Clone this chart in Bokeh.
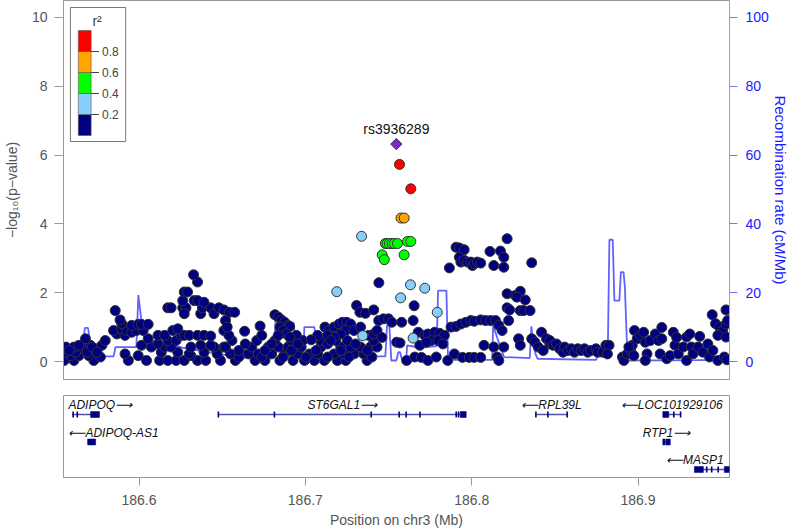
import numpy as np
from bokeh.plotting import figure
from bokeh.models import Range1d, LinearAxis, FixedTicker, ColumnDataSource
from bokeh.layouts import column
from bokeh.embed import file_html
from bokeh.resources import INLINE
from bokeh.core.properties import value
from bokeh.transform import linear_cmap

FONT = "Liberation Sans"

# ---------------- data ----------------
x_start, x_end = 186.5546, 186.9550
lead_snp = "rs3936289"
lead_pos = [186.7547]
lead_logp = [6.32]

ld_colors = ["#000080", "#87CEFA", "#00FF00", "#FFA500", "#FF0000"]
ld_ticks = [0.2, 0.4, 0.6, 0.8]
ld_title = "r\u00b2"

# (position Mb, -log10 p), r2 < 0.2
navy_zone1_low = [
    (186.5550, 0.03), (186.5609, 0.03), (186.5728, 0.03), (186.5936, 0.03), (186.6045, 0.03), (186.6124, 0.03),
    (186.6173, 0.03), (186.6223, 0.03), (186.6272, 0.03), (186.6352, 0.03), (186.6401, 0.03), (186.6490, 0.03),
    (186.5589, 0.17), (186.5639, 0.17), (186.5698, 0.17), (186.5768, 0.13), (186.5995, 0.17), (186.6312, 0.17),
    (186.5560, 0.27), (186.5619, 0.27), (186.5916, 0.22), (186.6134, 0.27), (186.6233, 0.27), (186.6302, 0.22),
    (186.6391, 0.27), (186.6470, 0.22),
    (186.5560, 0.42), (186.5609, 0.42), (186.5669, 0.37), (186.5738, 0.37), (186.6074, 0.42), (186.6154, 0.42),
    (186.6193, 0.42), (186.6312, 0.42), (186.6451, 0.42), (186.6510, 0.42),
    (186.5708, 0.47), (186.5777, 0.47), (186.6015, 0.47), (186.6114, 0.51), (186.6371, 0.47), (186.6431, 0.47),
    (186.5678, 0.66), (186.5797, 0.61), (186.6055, 0.66), (186.6173, 0.61), (186.6223, 0.61),
    (186.5579, 0.32), (186.5639, 0.47), (186.5688, 0.27), (186.5718, 0.42), (186.5748, 0.27),
]
navy_zone1_high = [
    (186.5867, 0.80), (186.5916, 0.76), (186.6114, 0.76), (186.6154, 0.76), (186.6253, 0.76), (186.6272, 0.76),
    (186.6302, 0.76), (186.6352, 0.76), (186.6391, 0.76), (186.6431, 0.74),
    (186.5847, 0.90), (186.5896, 0.95), (186.5926, 0.90), (186.5956, 0.85), (186.5985, 0.90), (186.6025, 0.90),
    (186.6203, 0.90), (186.6233, 0.95), (186.6510, 0.90),
    (186.5896, 1.10), (186.5956, 1.05), (186.5995, 1.08), (186.6015, 1.08), (186.6055, 1.08),
    (186.5857, 1.48), (186.5886, 1.21), (186.6173, 1.56), (186.6193, 1.56), (186.6263, 1.56), (186.6282, 1.56),
    (186.6272, 1.39), (186.6371, 1.39), (186.6381, 1.56), (186.6431, 1.56), (186.6451, 1.39), (186.6480, 1.56),
    (186.6263, 1.77), (186.6332, 1.77), (186.6352, 1.77), (186.6391, 1.72), (186.6272, 2.02), (186.6292, 2.02),
    (186.6352, 2.31), (186.6328, 2.52),
]
navy_zone2_high = [
    (186.6510, 1.50), (186.6544, 1.43), (186.6575, 1.43), (186.6520, 1.19), (186.6530, 1.00), (186.6635, 0.88),
    (186.6728, 1.03),
    (186.6817, 1.36), (186.6837, 1.29), (186.6856, 1.21), (186.6876, 1.14), (186.6896, 1.05), (186.6906, 1.02),
    (186.6847, 1.00), (186.6866, 0.90), (186.6886, 0.80), (186.6906, 0.71), (186.6837, 0.76),
    (186.7035, 0.63),
    (186.7118, 1.00), (186.7138, 0.90), (186.7173, 1.00), (186.7203, 1.09), (186.7223, 1.14), (186.7248, 1.14),
    (186.7272, 1.09), (186.7243, 0.90), (186.7213, 0.80), (186.7173, 0.71), (186.7134, 0.76), (186.7153, 0.61),
    (186.7308, 1.63), (186.7328, 1.43), (186.7361, 1.40), (186.7411, 1.50), (186.7441, 1.19), (186.7470, 1.24),
    (186.7500, 1.24),
    (186.7381, 0.76), (186.7411, 0.80), (186.7431, 0.90), (186.7460, 0.70), (186.7292, 0.90), (186.7332, 1.00),
    (186.7442, 2.29),
]
navy_zone2_low = [
    (186.6579, 0.03), (186.6698, 0.03), (186.6757, 0.03), (186.6847, 0.03), (186.6926, 0.03), (186.6995, 0.03),
    (186.7054, 0.03), (186.7114, 0.03), (186.7193, 0.03), (186.7243, 0.03), (186.7371, 0.03),
    (186.6550, 0.22), (186.6619, 0.22), (186.6658, 0.22), (186.6718, 0.22), (186.6797, 0.22), (186.6876, 0.22),
    (186.6955, 0.22), (186.7025, 0.22), (186.7074, 0.22), (186.7173, 0.22), (186.7233, 0.22), (186.7292, 0.22),
    (186.7351, 0.22),
    (186.6520, 0.42), (186.6678, 0.42), (186.6777, 0.42), (186.6837, 0.42), (186.6896, 0.42), (186.6975, 0.42),
    (186.7094, 0.42), (186.7213, 0.42), (186.7272, 0.42), (186.7332, 0.42), (186.7391, 0.42), (186.7431, 0.42),
    (186.6559, 0.61), (186.6708, 0.61), (186.6817, 0.61), (186.6916, 0.61), (186.6985, 0.61), (186.7094, 0.61),
    (186.7183, 0.61), (186.7252, 0.61), (186.7411, 0.61),
    (186.6540, 0.76), (186.6738, 0.76), (186.6946, 0.76), (186.7074, 0.76),
    (186.6600, 0.13), (186.6738, 0.13), (186.6866, 0.13), (186.7004, 0.13), (186.7134, 0.13), (186.7262, 0.13),
    (186.7400, 0.13),
    (186.6600, 0.32), (186.6757, 0.32), (186.6916, 0.32), (186.7064, 0.32), (186.7213, 0.32), (186.7371, 0.32),
    (186.6639, 0.51), (186.6797, 0.51), (186.6955, 0.51), (186.7134, 0.51), (186.7302, 0.51),
]
navy_zone3 = [
    (186.7866, 2.72), (186.7906, 3.32), (186.7926, 3.30), (186.7955, 3.25), (186.7926, 3.03), (186.7935, 2.89),
    (186.7955, 2.94), (186.7975, 2.89), (186.7995, 2.89), (186.8005, 2.79), (186.8015, 2.84), (186.8034, 2.89),
    (186.8054, 2.86), (186.8110, 3.20), (186.8133, 2.79), (186.8173, 3.21), (186.8193, 3.03), (186.8193, 2.74),
    (186.8213, 3.57), (186.8361, 2.87),
    (186.8213, 1.97), (186.8262, 1.92), (186.8292, 2.04), (186.8272, 1.87), (186.8322, 1.79), (186.8213, 1.56),
    (186.8228, 1.50), (186.8292, 1.48), (186.8312, 1.48), (186.8351, 1.48), (186.8222, 1.19),
    (186.7520, 1.14), (186.7579, 1.14), (186.7648, 1.19), (186.7654, 1.62), (186.7876, 1.00),
    (186.7906, 1.02), (186.7935, 1.09), (186.7965, 1.14), (186.7995, 1.19), (186.8015, 1.17), (186.8054, 1.21),
    (186.8084, 1.19), (186.8114, 1.19), (186.8143, 1.19), (186.8163, 1.05), (186.8183, 0.90),
    (186.7549, 0.56), (186.7569, 0.54), (186.7678, 0.85), (186.7718, 0.76), (186.7737, 0.80), (186.7777, 0.85),
    (186.7807, 0.82), (186.7836, 0.76), (186.7757, 0.61), (186.7797, 0.61), (186.7827, 0.51), (186.7688, 0.47),
    (186.7728, 0.56),
    (186.7609, 0.03), (186.7658, 0.13), (186.7698, 0.12), (186.7737, 0.03), (186.7787, 0.13), (186.7856, 0.03),
    (186.7896, 0.22), (186.7945, 0.12), (186.7985, 0.12), (186.8015, 0.12), (186.8054, 0.12), (186.8153, 0.13),
    (186.8163, 0.03),
    (186.8074, 0.47), (186.8133, 0.42), (186.8193, 0.42), (186.8282, 0.66), (186.8292, 0.47), (186.8361, 0.66),
    (186.8381, 0.56), (186.8420, 0.85), (186.8450, 0.66), (186.8470, 0.51), (186.8400, 0.42), (186.8430, 0.32),
]
navy_zone4 = [
    (186.8470, 0.61), (186.8490, 0.47), (186.8510, 0.51), (186.8529, 0.37), (186.8549, 0.27), (186.8559, 0.42),
    (186.8579, 0.32), (186.8599, 0.37), (186.8618, 0.27), (186.8638, 0.37), (186.8658, 0.32), (186.8678, 0.37),
    (186.8698, 0.27), (186.8717, 0.32), (186.8747, 0.37), (186.8757, 0.27), (186.8787, 0.27), (186.8807, 0.47),
    (186.8826, 0.47), (186.8816, 0.22),
    (186.8906, 0.13), (186.8915, 0.03), (186.8935, 0.22), (186.8955, 0.32), (186.8965, 0.47), (186.8975, 0.17),
    (186.8945, 0.42), (186.8979, 0.90), (186.8995, 0.66), (186.9014, 0.76), (186.9034, 0.85), (186.9044, 0.56),
    (186.9054, 0.22), (186.9044, 0.03), (186.9074, 0.61), (186.9104, 0.80), (186.9123, 0.61), (186.9143, 0.99),
    (186.9143, 0.66), (186.9133, 0.22), (186.9173, 0.08), (186.9193, 0.17), (186.9212, 0.85), (186.9222, 0.47),
    (186.9232, 0.70), (186.9242, 0.22), (186.9272, 0.42), (186.9292, 0.71), (186.9311, 0.80), (186.9292, 0.03),
    (186.9321, 0.42), (186.9331, 0.22), (186.9361, 0.42), (186.9371, 0.73), (186.9390, 0.27), (186.9420, 0.51),
    (186.9430, 0.13), (186.9450, 0.32), (186.9480, 0.03), (186.9519, 0.13), (186.9446, 1.36), (186.9466, 1.10),
    (186.9529, 1.50), (186.9490, 1.00), (186.9509, 0.90), (186.9529, 1.09), (186.9480, 0.76), (186.9529, 0.71),
    (186.9539, 1.19), (186.9535, 0.05),
]
# 0.2 <= r2 < 0.4
lightblue_snps = [(186.7338, 3.64), (186.7189, 2.03), (186.7345, 0.75), (186.7632, 2.23), (186.7718, 2.13),
                  (186.7573, 1.85), (186.7793, 1.43), (186.7648, 0.68)]
# 0.4 <= r2 < 0.6
green_snps = [(186.7481, 3.43), (186.7491, 3.43), (186.7505, 3.43), (186.7521, 3.43), (186.7535, 3.43),
              (186.7554, 3.43), (186.7614, 3.49), (186.7634, 3.49), (186.7462, 3.10), (186.7475, 2.96),
              (186.7594, 3.10)]
# 0.6 <= r2 < 0.8
orange_snps = [(186.7575, 4.17), (186.7594, 4.17)]
# r2 >= 0.8
red_snps = [(186.7566, 5.73), (186.7634, 5.02)]
ld_class_r2 = [0.1, 0.3, 0.5, 0.7, 0.9]

# recombination rate (position Mb, cM/Mb)
recomb = [
    (186.5544, 1.5), (186.5610, 2.0), (186.5657, 3.0), (186.5675, 9.8), (186.5693, 9.8), (186.5717, 2.5),
    (186.5788, 1.5), (186.5847, 1.5), (186.5859, 4.2), (186.5984, 4.2), (186.5996, 19.3), (186.6014, 12.0),
    (186.6031, 7.0), (186.6085, 6.0), (186.6174, 5.0), (186.6263, 4.0), (186.6382, 3.0), (186.6501, 2.0),
    (186.6620, 1.5), (186.6739, 1.8), (186.6810, 2.0), (186.6822, 12.9), (186.6869, 12.9), (186.6887, 11.3),
    (186.6929, 11.3), (186.6947, 3.0), (186.6988, 3.0), (186.6994, 10.0), (186.7054, 10.0), (186.7077, 1.7),
    (186.7214, 1.5), (186.7333, 1.5), (186.7481, 1.5), (186.7491, 10.5), (186.7505, 10.5), (186.7517, 0.3),
    (186.7547, 0.3), (186.7559, 2.7), (186.7570, 2.7), (186.7582, 0.3), (186.7606, 0.3), (186.7612, 4.7),
    (186.7689, 4.0), (186.7790, 4.5), (186.7798, 20.6), (186.7848, 20.6), (186.7857, 2.0), (186.7868, 0.5),
    (186.8123, 0.5), (186.8129, 10.5), (186.8153, 7.0), (186.8194, 1.3), (186.8349, 1.0), (186.8359, 10.2),
    (186.8367, 6.0), (186.8383, 2.3), (186.8396, 0.8), (186.8747, 0.5), (186.8759, 1.7), (186.8818, 1.7),
    (186.8828, 35.4), (186.8848, 35.4), (186.8858, 17.7), (186.8888, 17.7), (186.8897, 26.0), (186.8913, 26.0),
    (186.8921, 21.6), (186.8937, 0.3), (186.9353, 0.4), (186.9555, 0.5),
]

gene_name = ["ADIPOQ", "ADIPOQ-AS1", "ST6GAL1", "RPL39L", "LOC101929106", "RTP1", "MASP1"]
gene_start = [186.5598, 186.5691, 186.6477, 186.8386, 186.9149, 186.9149, 186.9339]
gene_end = [186.5762, 186.5739, 186.7967, 186.8574, 186.9256, 186.9194, 186.9551]
gene_strand = ["+", "-", "+", "-", "-", "+", "-"]
gene_row = [1, 2, 1, 1, 1, 2, 3]
exon_start = [186.5709, 186.5691, 186.7931, 186.9149, 186.9149, 186.9167, 186.9339, 186.9519]
exon_end = [186.5762, 186.5739, 186.7967, 186.9185, 186.9162, 186.9194, 186.9393, 186.9551]
exon_row = [1, 2, 1, 1, 2, 2, 3, 3]
small_exon_pos = [186.5604, 186.5629, 186.6477, 186.6814, 186.7396, 186.7564, 186.7606, 186.7689, 186.7907,
                  186.7921, 186.8386, 186.8458, 186.8574, 186.9215, 186.9256, 186.9413, 186.9443, 186.9482]
small_exon_row = [1, 1, 1, 1, 1, 1, 1, 1, 1, 1, 1, 1, 1, 1, 1, 3, 3, 3]

# ---------------- layout ----------------
W = 791
BL, BR = 59, 57
FW = W - BL - BR
FH = 379
y_bot, y_top = -0.523, 10.494
xr = Range1d(x_start, x_end)

p = figure(width=W, height=FH + 8, x_range=xr, y_range=Range1d(y_bot, y_top),
           x_axis_location=None, y_axis_location="left", toolbar_location=None,
           output_backend="svg", title=None,
           min_border_left=BL, min_border_right=BR, min_border_top=0, min_border_bottom=8)
p.grid.visible = False
p.outline_line_color = "#999999"
p.background_fill_color = "white"
p.border_fill_color = "white"

yax = p.yaxis[0]
yax.ticker = FixedTicker(ticks=[0, 2, 4, 6, 8, 10])
yax.axis_label = "\u2212log\u2081\u2080(p\u2212value)"
yax.axis_label_text_font = FONT
yax.axis_label_text_font_size = "14px"
yax.axis_label_text_font_style = "normal"
yax.axis_label_text_color = "#555555"
yax.axis_label_standoff = 9
yax.major_label_text_font = FONT
yax.major_label_text_font_size = "14px"
yax.major_label_text_color = "#555555"
yax.major_label_standoff = 7
yax.major_tick_out = 9
yax.major_tick_in = 0
yax.minor_tick_line_color = None
yax.axis_line_color = "#999999"
yax.major_tick_line_color = "#999999"

p.extra_y_ranges = {"recomb": Range1d(y_bot * 10, y_top * 10)}
rax = LinearAxis(y_range_name="recomb", ticker=FixedTicker(ticks=[0, 20, 40, 60, 80, 100]),
                 axis_label="Recombination rate (cM/Mb)")
rax.axis_label_text_font = FONT
rax.axis_label_text_font_size = "15px"
rax.axis_label_text_font_style = "normal"
rax.axis_label_text_color = "#1a1aff"
rax.axis_label_standoff = 0
rax.major_label_text_font = FONT
rax.major_label_text_font_size = "14px"
rax.major_label_text_color = "#1a1aff"
rax.major_label_standoff = 8
rax.major_tick_out = 8
rax.major_tick_in = 0
rax.minor_tick_line_color = None
rax.axis_line_color = "#9a9ae0"
rax.major_tick_line_color = "#7777ee"
p.add_layout(rax, "right")

# recombination line
p.line([r[0] for r in recomb], [r[1] for r in recomb], y_range_name="recomb",
       line_color="#3b3bff", line_alpha=0.8, line_width=1.8)

# SNPs
classes = [navy_zone1_low + navy_zone1_high + navy_zone2_low + navy_zone2_high + navy_zone3 + navy_zone4,
           lightblue_snps, green_snps, orange_snps, red_snps]
xs, ys, r2s = [], [], []
for snps, r2 in zip(classes, ld_class_r2):
    for pos, lp in snps:
        xs.append(pos)
        ys.append(lp)
        r2s.append(r2)
src = ColumnDataSource(dict(x=xs, y=ys, r2=r2s))
p.scatter("x", "y", source=src, size=10, line_color="#333333", line_width=1,
          fill_color=linear_cmap("r2", ld_colors, 0, 1))

p.scatter(lead_pos, lead_logp, marker="square", angle=np.pi / 4, size=8,
          fill_color="#7D26CD", line_color="#333333", line_width=1)
p.text(lead_pos, lead_logp, text=[lead_snp], text_font=value(FONT), text_font_size="14px",
       text_align="center", text_baseline="bottom", y_offset=-7, text_color="#111111")

# r2 legend (inset, positioned in pixels from the frame's top-left corner)
def fx(px):
    return x_start + px * (x_end - x_start) / FW


def fy(py):
    return y_top - py * (y_top - y_bot) / FH


BAR_TOP, BAR_H = 30, 105
p.quad(left=[fx(7)], right=[fx(63)], top=[fy(7)], bottom=[fy(141)],
       fill_color="white", line_color="#777777", line_width=1)
n = len(ld_colors)
p.quad(left=[fx(15)] * n, right=[fx(28)] * n,
       bottom=[fy(BAR_TOP + BAR_H - BAR_H * i / n) for i in range(n)],
       top=[fy(BAR_TOP + BAR_H - BAR_H * (i + 1) / n) for i in range(n)],
       fill_color=ld_colors, line_color="#555555", line_width=0.6)
tick_y = [fy(BAR_TOP + BAR_H - BAR_H * t) for t in ld_ticks]
p.segment(x0=[fx(28)] * len(ld_ticks), x1=[fx(36)] * len(ld_ticks), y0=tick_y, y1=tick_y,
          line_color="#444444", line_width=1)
p.text([fx(39)] * len(ld_ticks), tick_y, text=[f"{t:.1f}" for t in ld_ticks], text_font=value(FONT),
       text_font_size="12px", text_align="left", text_baseline="middle", text_color="#444444")
p.text([fx(34)], [fy(20)], text=[ld_title], text_font=value(FONT), text_font_size="14px",
       text_align="center", text_baseline="middle", text_color="#444444")

# ---------------- gene panel ----------------
p2 = figure(width=W, height=8 + 82 + 55, x_range=xr, y_range=Range1d(3.29, 0.309),
            y_axis_location=None, toolbar_location=None, output_backend="svg", title=None,
            min_border_left=BL, min_border_right=BR, min_border_top=8, min_border_bottom=55)
p2.grid.visible = False
p2.outline_line_color = "#999999"
xax = p2.xaxis[0]
xax.ticker = FixedTicker(ticks=[186.6, 186.7, 186.8, 186.9])
xax.axis_label = "Position on chr3 (Mb)"
xax.axis_label_text_font = FONT
xax.axis_label_text_font_size = "14px"
xax.axis_label_text_font_style = "normal"
xax.axis_label_text_color = "#555555"
xax.axis_label_standoff = 4
xax.major_label_text_font = FONT
xax.major_label_text_font_size = "14px"
xax.major_label_text_color = "#555555"
xax.major_label_standoff = 9
xax.major_tick_out = 8
xax.major_tick_in = 0
xax.minor_tick_line_color = None
xax.axis_line_color = "#999999"
xax.major_tick_line_color = "#999999"

GENE_COL = "#1a1a8a"
p2.segment(x0=gene_start, x1=gene_end, y0=gene_row, y1=gene_row, line_color=GENE_COL, line_width=1.3,
           line_alpha=0.75)
p2.rect(x=[(a + b) / 2 for a, b in zip(exon_start, exon_end)], y=exon_row,
        width=[b - a for a, b in zip(exon_start, exon_end)], height=6, height_units="screen",
        fill_color="#000080", line_color="#000080", line_width=0.5)
p2.rect(x=small_exon_pos, y=small_exon_row, width=1.6, height=6, width_units="screen", height_units="screen",
        fill_color="#000080", line_color=None)

px = (x_end - x_start) / FW
groups = {"left": ([], [], []), "center": ([], [], []), "right": ([], [], [])}
for name, s, e, st, row in zip(gene_name, gene_start, gene_end, gene_strand, gene_row):
    lab = name + "\u27f6" if st == "+" else "\u27f5" + name
    half = (len(lab) + 1) * 7.0 / 2 * px
    c = (s + e) / 2
    if c - half < x_start + 5 * px:
        groups["left"][0].append(x_start + 5 * px)
        key = "left"
    elif c + half > x_end - 5 * px:
        groups["right"][0].append(x_end - 6 * px)
        key = "right"
    else:
        groups["center"][0].append(c)
        key = "center"
    groups[key][1].append(row)
    groups[key][2].append(lab)
for align, (gx, gy, gt) in groups.items():
    if gx:
        p2.text(gx, gy, text=gt, text_font=value(FONT), text_font_size="12px", text_font_style="italic",
                text_align=align, text_baseline="middle", y_offset=-9.5, text_color="#111111")

layout = column(p, p2)
open("out.html", "w").write(file_html(layout, INLINE))
